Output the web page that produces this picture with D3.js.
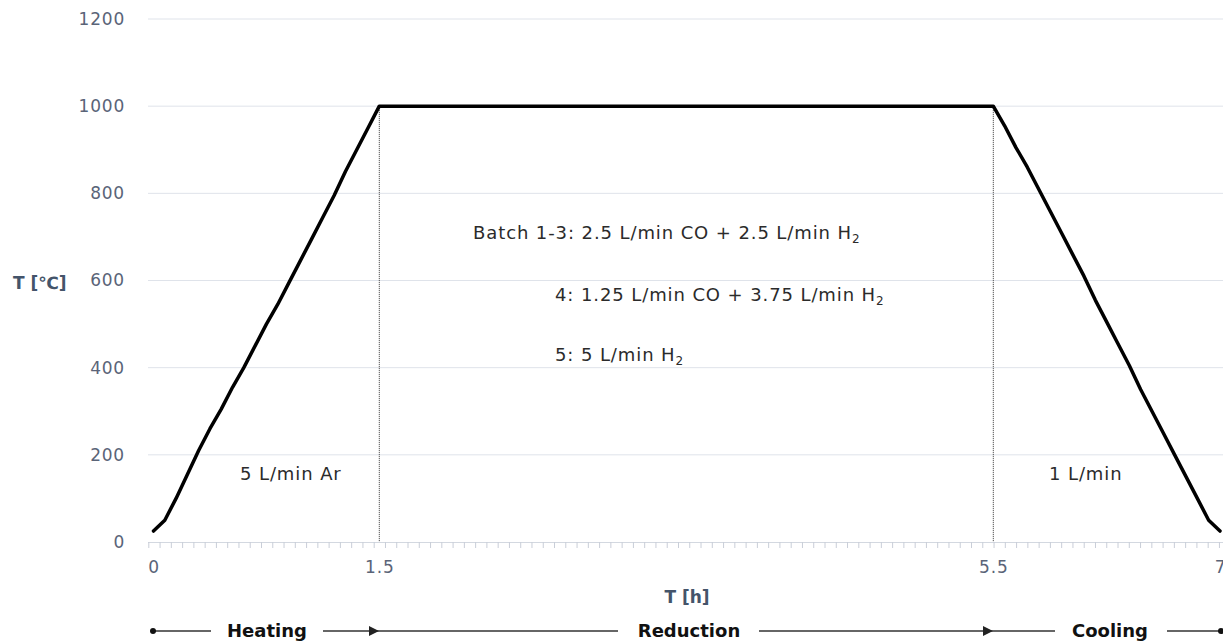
<!DOCTYPE html>
<html>
<head>
<meta charset="utf-8">
<script src="https://cdn.jsdelivr.net/npm/d3@7"></script>
<style>
  body { margin: 0; background: #fff; }
  svg { display: block; font-family: "DejaVu Sans", sans-serif; }
</style>
</head>
<body>
<div id="chart"></div>
<script>
// furnace programme: temperature vs time
const heatHours = [0, 0.075, 0.15, 0.225, 0.3, 0.375, 0.45, 0.525, 0.6, 0.675, 0.75, 0.825, 0.9, 0.975, 1.05, 1.125, 1.2, 1.275, 1.35, 1.425, 1.5]
const heatTemp = [25, 50, 100, 155, 210, 260, 305, 355, 400, 450, 500, 545, 595, 645, 695, 745, 795, 850, 900, 950, 1000]
const coolHours = [5.5, 5.575, 5.65, 5.725, 5.8, 5.875, 5.95, 6.025, 6.1, 6.175, 6.25, 6.325, 6.4, 6.475, 6.55, 6.625, 6.7, 6.775, 6.85, 6.925, 7]
const coolTemp = [1000, 955, 905, 860, 810, 760, 710, 660, 610, 555, 505, 455, 405, 350, 300, 250, 200, 150, 100, 50, 25]
const xTicks = [0, 1.5, 5.5, 7]
const xTickLabels = ["0", "1.5", "5.5", "7"]
const yTicks = [0, 200, 400, 600, 800, 1000, 1200]
const stageBreaks = [1.5, 5.5]
const stageNames = ["Heating", "Reduction", "Cooling"]

const WIDTH = 1223
const HEIGHT = 642
const TICK_COLOR = "#5a6478"

const svg = d3.select("#chart").append("svg")
  .attr("width", WIDTH)
  .attr("height", HEIGHT)

// x is a category axis in the original, so the segments are not evenly scaled
const x = d3.scaleLinear()
  .domain([0, 1.5, 5.5, 7])
  .range([153.5, 379.3, 993.3, 1220])

const y = d3.scaleLinear()
  .domain([0, 1200])
  .range([542, 19])

// minor category ticks
const cat = d3.scaleLinear()
  .domain([0, 1])
  .range([148.3, 148.3 + 11.27])

// gridlines
svg.append("g")
  .selectAll("line")
  .data(yTicks.filter(d => d > 0))
  .join("line")
    .attr("x1", 148)
    .attr("x2", WIDTH)
    .attr("y1", d => y(d))
    .attr("y2", d => y(d))
    .attr("stroke", "#dfe3ea")
    .attr("stroke-width", 1)

// y axis labels
const yAxis = svg.append("g")
  .attr("transform", `translate(148,0)`)
  .call(d3.axisLeft(y).tickValues(yTicks).tickFormat(d3.format("d")).tickSize(0).tickPadding(23))
yAxis.select(".domain").remove()
yAxis.selectAll("text")
  .attr("font-size", 17)
  .attr("letter-spacing", 0.8)
  .attr("fill", TICK_COLOR)
  .attr("font-family", "DejaVu Sans, sans-serif")

// x axis line + minor ticks
const minor = svg.append("g")
  .attr("transform", `translate(0, ${y(0)})`)
  .call(d3.axisBottom(cat).tickValues(d3.range(0, 96)).tickFormat("").tickSize(6).tickSizeOuter(0))
minor.select(".domain")
  .attr("d", `M148,0.5H${WIDTH}`)
  .attr("stroke", "#d3d8e0")
minor.selectAll(".tick line").attr("stroke", "#c9ced8")

// x labels
const xAxis = svg.append("g")
  .attr("transform", `translate(0, ${y(0)})`)
  .call(d3.axisBottom(x).tickValues(xTicks).tickFormat((d, i) => xTickLabels[i]).tickSize(0).tickPadding(19))
xAxis.select(".domain").remove()
xAxis.selectAll("text")
  .attr("font-size", 17)
  .attr("letter-spacing", 0.8)
  .attr("fill", TICK_COLOR)
  .attr("font-family", "DejaVu Sans, sans-serif")

// stage separators
svg.append("g")
  .selectAll("line")
  .data(stageBreaks)
  .join("line")
    .attr("x1", d => x(d))
    .attr("x2", d => x(d))
    .attr("y1", y(1000))
    .attr("y2", y(0))
    .attr("stroke", "#333")
    .attr("stroke-width", 1)
    .attr("stroke-dasharray", "1,1")

// temperature profile
const points = heatHours.map((h, i) => [h, heatTemp[i]])
  .concat(coolHours.map((h, i) => [h, coolTemp[i]]))

svg.append("path")
  .datum(points)
  .attr("fill", "none")
  .attr("stroke", "#000")
  .attr("stroke-width", 3.5)
  .attr("stroke-linejoin", "round")
  .attr("stroke-linecap", "round")
  .attr("d", d3.line().x(d => x(d[0])).y(d => y(d[1])))

// axis titles
svg.append("text")
  .attr("x", 13)
  .attr("y", 289)
  .attr("font-size", 17)
  .attr("font-weight", "bold")
  .attr("fill", "#44546a")
  .text("T [℃]")

svg.append("text")
  .attr("x", 687)
  .attr("y", 603)
  .attr("text-anchor", "middle")
  .attr("font-size", 17)
  .attr("font-weight", "bold")
  .attr("fill", "#44546a")
  .text("T [h]")

// annotations
function note(tx, ty, parts) {
  const t = svg.append("text")
    .attr("x", tx)
    .attr("y", ty)
    .attr("font-size", 18)
    .attr("letter-spacing", 0.9)
    .attr("fill", "#2b2b2b")
  parts.forEach(p => {
    if (p.sub) {
      t.append("tspan").attr("font-size", 12).attr("dy", 4).text(p.t)
    } else {
      t.append("tspan").text(p.t)
    }
  })
}
note(473, 239, [{ t: "Batch 1-3: 2.5 L/min CO + 2.5 L/min H" }, { t: "2", sub: true }])
note(555, 301, [{ t: "4: 1.25 L/min CO + 3.75 L/min H" }, { t: "2", sub: true }])
note(555, 361, [{ t: "5: 5 L/min H" }, { t: "2", sub: true }])
note(240, 480, [{ t: "5 L/min Ar" }])
note(1049, 480, [{ t: "1 L/min" }])

// stage bar under the axis
const barY = 631
const segs = [[153, 211], [323, 379], [379, 618], [759, 993], [993, 1055], [1167, 1222]]
svg.append("defs").append("marker")
  .attr("id", "arrow")
  .attr("viewBox", "0 0 10 10")
  .attr("refX", 10)
  .attr("refY", 5)
  .attr("markerWidth", 10)
  .attr("markerHeight", 10)
  .attr("markerUnits", "userSpaceOnUse")
  .attr("orient", "auto")
  .append("path")
    .attr("d", "M0,0L10,5L0,10z")
    .attr("fill", "#222")

svg.append("g")
  .selectAll("line")
  .data(segs)
  .join("line")
    .attr("x1", d => d[0])
    .attr("x2", d => d[1])
    .attr("y1", barY)
    .attr("y2", barY)
    .attr("stroke", "#333")
    .attr("stroke-width", 1.5)
    .attr("marker-end", (d, i) => (i === 1 || i === 3) ? "url(#arrow)" : null)

svg.append("g")
  .selectAll("circle")
  .data([153, 1221])
  .join("circle")
    .attr("cx", d => d)
    .attr("cy", barY)
    .attr("r", 3)
    .attr("fill", "#111")

const stageCentres = [267, 689, 1110]
svg.append("g")
  .selectAll("text")
  .data(stageNames)
  .join("text")
    .attr("x", (d, i) => stageCentres[i])
    .attr("y", barY)
    .attr("dy", "0.36em")
    .attr("text-anchor", "middle")
    .attr("font-size", 18)
    .attr("font-weight", "bold")
    .attr("fill", "#111")
    .text(d => d)
</script>
</body>
</html>
